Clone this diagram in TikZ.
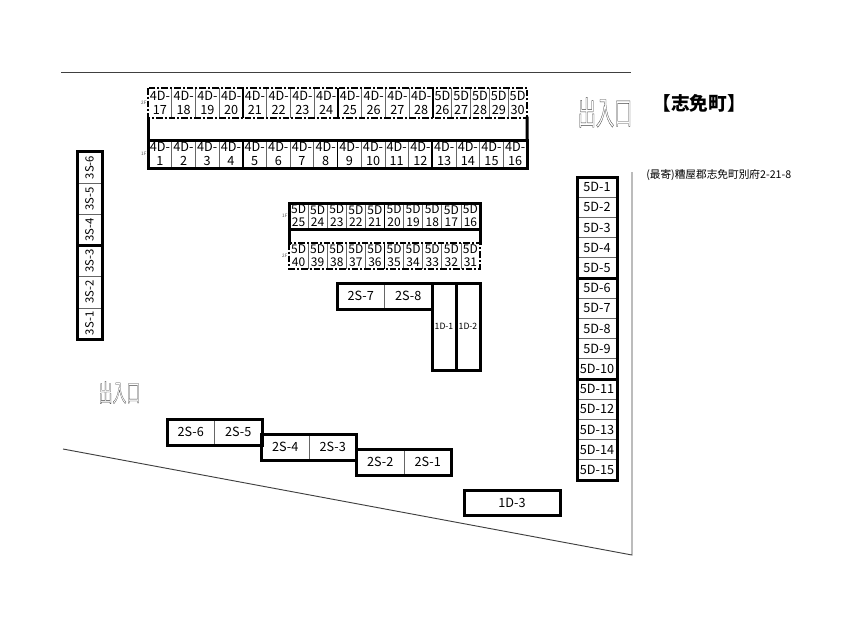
\documentclass[tikz,border=0pt]{standalone}
\usepackage{fontspec}
\setmainfont{Noto Sans CJK JP}
\usetikzlibrary{positioning}

\newcommand{\cellfont}{\fontsize{9.5}{10.6}\selectfont}
\newcommand{\tightfont}{\fontsize{9}{9.6}\selectfont}
\newcommand{\outlinetext}[1]{\special{pdf:code q 1 Tr 0.25 w}#1\special{pdf:code Q}}
\tikzset{
  cell/.style 2 args={draw=black!60, line width=.5pt, inner sep=0pt, outer sep=0pt,
    minimum width=#1*.75pt, minimum height=#2*.75pt, align=center, font=\cellfont},
  opencell/.style 2 args={cell={#1}{#2}, draw=none},
  frame/.style={line width=2.25pt, line cap=rect},
  dashframe/.style={line width=1.7pt, dash pattern=on 5pt off 1.5pt on 1.5pt off 1.5pt},
  thinwall/.style={draw=black!60, line width=.5pt},
  lotline/.style={draw=black!75, line width=.7pt},
  floortag/.style={inner sep=0pt, font=\fontsize{3.5}{4}\selectfont, text=black!70},
  gate/.style={inner sep=0pt, text=black!75, transform shape, font=\fontsize{18}{18}\selectfont}
}

\begin{document}
\begin{tikzpicture}[x=.75pt, y=-.75pt]
  \useasboundingbox (0,0) rectangle (850,640);

  % site boundary
  \coordinate (topA) at (61,72);
  \coordinate (topB) at (631,72);
  \coordinate (sideA) at (632,172);
  \coordinate (sideB) at (632,555);
  \coordinate (lowA) at (63,449);
  \draw[lotline] (topA) -- (topB);
  \draw[lotline] (sideA) -- (sideB) -- (lowA);

  % upper block
  \foreach \i in {17,...,28}
    \node[opencell={23.75}{30}] (t\i) at ({148+23.75*(\i-16.5)},103) {4D-\\\i};
  \foreach \i in {26,...,30}
    \node[opencell={18.8}{30}] (f\i) at ({433+18.8*(\i-25.5)},103) {5D\\\i};
  \foreach \i in {17,...,28}
    \draw[thinwall] (t\i.north east) -- (t\i.south east);
  \foreach \i in {26,...,29}
    \draw[thinwall] (f\i.north east) -- (f\i.south east);
  \foreach \i in {1,...,16}
    \node[cell={23.69}{28}] (d\i) at ({148+23.69*(\i-.5)},154) {4D-\\\i};
  \draw[dashframe] (t17.north west) rectangle (f30.south east);
  \draw[frame] (d1.north west) rectangle (d16.south east);
  \draw[frame] (t17.south west) -- (d1.north west);
  \draw[frame] (f30.south east) -- (d16.north east);
  \foreach \i in {4,8,12}
    \draw[line width=1.4pt] (d\i.north east) -- (d\i.south east);
  \foreach \i in {20,24,28}
    \draw[line width=1pt] (t\i.north east) -- (t\i.south east);
  \node[floortag, left=1pt of t17.west] (tagA) {2F};
  \node[floortag, left=1pt of d1.west] (tagB) {1F};

  % middle block
  \foreach \i [count=\n] in {25,24,...,16}
    \node[cell={19.1}{26}, font=\tightfont] (m\i) at ({289+19.1*(\n-.5)},216) {5D\\\i};
  \foreach \i [count=\n] in {40,39,...,31}
    \node[opencell={19.1}{26}, font=\tightfont] (n\i) at ({289+19.1*(\n-.5)},256) {5D\\\i};
  \foreach \i in {40,39,...,32}
    \draw[thinwall] (n\i.north east) -- (n\i.south east);
  \draw[dashframe] (n40.north west) rectangle (n31.south east);
  \draw[frame] (m25.north west) rectangle (m16.south east);
  \draw[frame] (m25.south west) -- (n40.north west);
  \draw[frame] (m16.south east) -- (n31.north east);
  \draw[line width=1.4pt] (m21.north east) -- (m21.south east);
  \draw[line width=1pt] (n36.north east) -- (n36.south east);
  \node[floortag, left=1pt of m25.west] (tagC) {1F};
  \node[floortag, left=1pt of n40.west] (tagD) {2F};

  % 2S-7, 2S-8, 1D-1, 1D-2
  \node[cell={47.5}{26}] (s7) at (360.75,296) {2S-7};
  \node[cell={47.5}{26}] (s8) at (408.25,296) {2S-8};
  \node[cell={24}{87}, font=\fontsize{6.5}{8}\selectfont] (o1) at (444,326.5) {1D-1};
  \node[cell={24}{87}, font=\fontsize{6.5}{8}\selectfont] (o2) at (468,326.5) {1D-2};
  \draw[frame] (s7.north west) rectangle (s8.south east);
  \draw[frame] (o1.north west) rectangle (o1.south east);
  \draw[frame] (o2.north west) rectangle (o2.south east);

  % 3S row
  \foreach \i in {1,...,6}
    \node[cell={25}{31.17}, font=\fontsize{8.5}{10}\selectfont] (a\i) at (89.5,{339-31.17*(\i-.5)}) {\rotatebox{90}{3S-\i}};
  \draw[frame] (a6.north west) rectangle (a1.south east);
  \draw[frame] (a3.north west) -- (a3.north east);

  % 5D row
  \foreach \i in {1,...,15}
    \node[cell={40}{20.2}] (e\i) at (597,{177+20.2*(\i-.5)}) {5D-\i};
  \draw[frame] (e1.north west) rectangle (e15.south east);
  \draw[frame] (e5.south west) -- (e5.south east);
  \draw[frame] (e10.south west) -- (e10.south east);

  % 2S steps
  \foreach \i/\x/\y in {6/190.75/432,5/238.25/432,4/285.25/447,3/332.75/447,2/380.25/462,1/427.75/462}
    \node[cell={47.5}{26}] (b\i) at (\x,\y) {2S-\i};
  \draw[frame] (b6.north west) rectangle (b5.south east);
  \draw[frame] (b4.north west) rectangle (b3.south east);
  \draw[frame] (b2.north west) rectangle (b1.south east);

  % 1D-3
  \node[cell={96}{25}] (c3) at (512,502.5) {1D-3};
  \draw[frame] (c3.north west) rectangle (c3.south east);

  % texts
  \node[gate, xscale=.76, yscale=1.35] (gateA) at (605,112.5) {\outlinetext{出入口}};
  \node[gate, xscale=.58, yscale=1.02] (gateB) at (119.5,392.5) {\outlinetext{出入口}};
  \node[inner sep=0pt, font=\fontsize{14}{14}\selectfont\bfseries] (title) at (699,103.5) {【志免町】};
  \node[inner sep=0pt, anchor=west, font=\fontsize{8}{8}\selectfont] (addr) at (646,175.5) {(最寄)糟屋郡志免町別府2-21-8};
\end{tikzpicture}
\end{document}
